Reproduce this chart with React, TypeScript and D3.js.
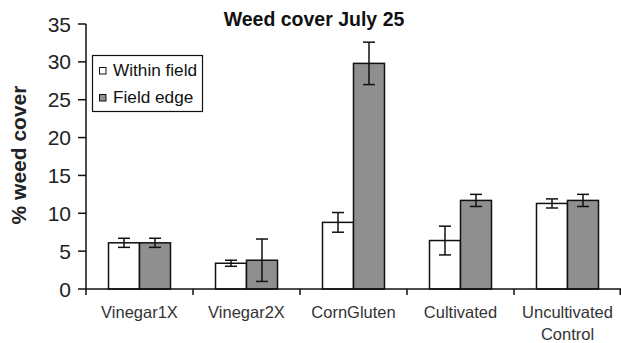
import React from "react";
import * as d3 from "d3";

const categories = ["Vinegar1X", "Vinegar2X", "CornGluten", "Cultivated", "Uncultivated Control"];
const seriesNames = ["Within field", "Field edge"];
const withinField = [6.1, 3.4, 8.8, 6.4, 11.3];
const withinErr = [0.6, 0.4, 1.3, 1.9, 0.6];
const fieldEdge = [6.1, 3.8, 29.8, 11.7, 11.7];
const edgeErr = [0.6, 2.8, 2.8, 0.8, 0.8];
const yTicks = [0, 5, 10, 15, 20, 25, 30, 35];

const fills = ["#ffffff", "#8f8f8f"];
const width = 621;
const height = 343;
const margin = { top: 24, right: 0, bottom: 54, left: 86 };
const font = "'Liberation Sans', Arial, sans-serif";

export default function App() {
  const x = d3.scaleBand().domain(categories).range([margin.left, width - margin.right]);
  const inner = d3.scaleBand().domain(seriesNames).range([22.5, x.bandwidth() - 22.5]);
  const y = d3.scaleLinear().domain([0, 35]).range([height - margin.bottom, margin.top]);
  const series = [
    { name: seriesNames[0], values: withinField, errs: withinErr },
    { name: seriesNames[1], values: fieldEdge, errs: edgeErr },
  ];
  const y0 = y(0);

  return (
    <div style={{ position: "fixed", left: 0, top: 0 }}>
      <svg width={width} height={height} style={{ display: "block", fontFamily: font }}>
        <rect width={width} height={height} fill="#fff" />
        {/* bars */}
        {series.map((s, si) =>
          categories.map((c, i) => {
            const bx = (x(c) ?? 0) + (inner(s.name) ?? 0);
            const bw = inner.bandwidth();
            const v = s.values[i];
            const e = s.errs[i];
            const cx = bx + bw / 2;
            return (
              <g key={s.name + c}>
                <rect x={bx} y={y(v)} width={bw} height={y0 - y(v)} fill={fills[si]} stroke="#111" strokeWidth={1.5} />
                <line x1={cx} x2={cx} y1={y(v + e)} y2={y(v - e)} stroke="#111" strokeWidth={1.5} />
                <line x1={cx - 6} x2={cx + 6} y1={y(v + e)} y2={y(v + e)} stroke="#111" strokeWidth={1.5} />
                <line x1={cx - 6} x2={cx + 6} y1={y(v - e)} y2={y(v - e)} stroke="#111" strokeWidth={1.5} />
              </g>
            );
          })
        )}
        {/* y axis */}
        <line x1={margin.left} x2={margin.left} y1={y(35)} y2={y0} stroke="#111" strokeWidth={1.5} />
        {yTicks.map((t) => (
          <g key={t}>
            <line x1={margin.left - 8} x2={margin.left} y1={y(t)} y2={y(t)} stroke="#111" strokeWidth={1.5} />
            <text x={margin.left - 15} y={y(t)} dy="0.36em" textAnchor="end" fontSize={21} fill="#222">
              {t}
            </text>
          </g>
        ))}
        {/* x axis */}
        <line x1={margin.left} x2={width} y1={y0} y2={y0} stroke="#111" strokeWidth={1.5} />
        {categories.map((c) => (
          <line key={c} x1={x(c)} x2={x(c)} y1={y0} y2={y0 + 6} stroke="#111" strokeWidth={1.5} />
        ))}
        <line x1={width - 0.75} x2={width - 0.75} y1={y0} y2={y0 + 6} stroke="#111" strokeWidth={1.5} />
        {categories.map((c) => {
          const cx = (x(c) ?? 0) + x.bandwidth() / 2;
          const parts = c === "Uncultivated Control" ? ["Uncultivated", "Control"] : [c];
          return (
            <text key={c} x={cx} y={y0 + 29} textAnchor="middle" fontSize={16.5} fill="#333">
              {parts.map((p, k) => (
                <tspan key={p} x={cx} dy={k === 0 ? 0 : 22}>
                  {p}
                </tspan>
              ))}
            </text>
          );
        })}
        {/* title */}
        <text x={314} y={26} textAnchor="middle" fontSize={19.5} fontWeight="bold" fill="#111">
          Weed cover July 25
        </text>
        {/* y label */}
        <text
          transform={`translate(26, ${(83 + 227) / 2}) rotate(-90)`}
          textAnchor="middle"
          fontSize={21}
          fontWeight="bold"
          fill="#222"
        >
          % weed cover
        </text>
        {/* legend */}
        <rect x={92.5} y={55.5} width={110} height={56} fill="#fff" stroke="#111" strokeWidth={1.2} />
        {series.map((s, si) => (
          <g key={s.name} transform={`translate(99, ${67 + si * 27})`}>
            <rect x={0.5} y={0.5} width={6.5} height={6.5} fill={fills[si]} stroke="#111" strokeWidth={1} />
            <text x={14} y={9} fontSize={17.2} fill="#111">
              {s.name}
            </text>
          </g>
        ))}
      </svg>
    </div>
  );
}
